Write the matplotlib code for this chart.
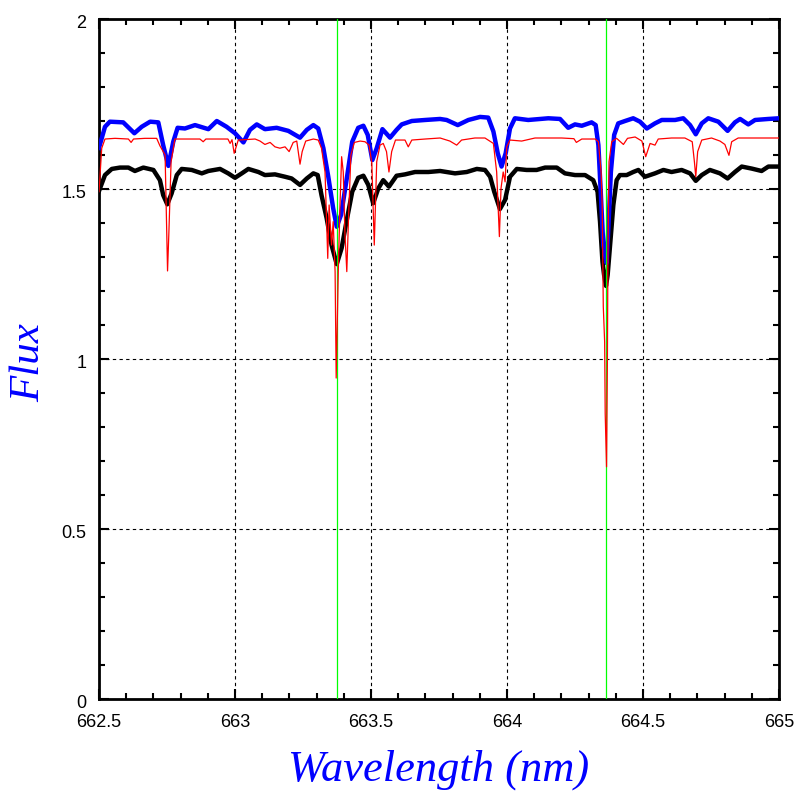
import numpy as np
import matplotlib
matplotlib.use("Agg")
import matplotlib.pyplot as plt
import matplotlib.transforms as mtransforms
from matplotlib.ticker import MultipleLocator

# (wavelength nm, flux)
blue_pts = [
    (662.500, 1.621), (662.522, 1.683), (662.540, 1.698), (662.589, 1.696), (662.630, 1.664),
    (662.657, 1.683), (662.688, 1.698), (662.718, 1.696), (662.736, 1.629), (662.755, 1.568),
    (662.773, 1.639), (662.789, 1.680), (662.816, 1.678), (662.853, 1.688), (662.902, 1.676),
    (662.933, 1.700), (662.969, 1.683), (663.000, 1.664), (663.031, 1.637), (663.055, 1.674),
    (663.080, 1.690), (663.110, 1.676), (663.153, 1.680), (663.196, 1.671), (663.239, 1.651),
    (663.264, 1.674), (663.288, 1.688), (663.306, 1.678), (663.325, 1.620), (663.343, 1.536),
    (663.361, 1.443), (663.374, 1.389), (663.390, 1.424), (663.411, 1.531), (663.431, 1.639),
    (663.453, 1.680), (663.472, 1.686), (663.488, 1.659), (663.505, 1.585), (663.521, 1.620),
    (663.542, 1.676), (663.570, 1.651), (663.594, 1.674), (663.613, 1.690), (663.650, 1.700),
    (663.699, 1.703), (663.754, 1.706), (663.778, 1.703), (663.819, 1.688), (663.858, 1.703),
    (663.901, 1.712), (663.931, 1.710), (663.950, 1.669), (663.966, 1.605), (663.980, 1.566),
    (663.995, 1.605), (664.011, 1.678), (664.029, 1.708), (664.078, 1.703), (664.152, 1.708),
    (664.195, 1.706), (664.225, 1.680), (664.250, 1.690), (664.275, 1.686), (664.311, 1.696),
    (664.326, 1.688), (664.336, 1.629), (664.344, 1.502), (664.354, 1.335), (664.366, 1.282),
    (664.372, 1.374), (664.382, 1.551), (664.394, 1.659), (664.409, 1.693), (664.434, 1.700),
    (664.464, 1.708), (664.489, 1.698), (664.514, 1.678), (664.544, 1.693), (664.569, 1.703),
    (664.618, 1.703), (664.648, 1.708), (664.673, 1.688), (664.694, 1.661), (664.716, 1.693),
    (664.740, 1.708), (664.777, 1.698), (664.811, 1.671), (664.838, 1.696), (664.857, 1.706),
    (664.887, 1.690), (664.912, 1.703), (664.961, 1.706), (665.000, 1.708),
]

black_pts = [
    (662.500, 1.494), (662.522, 1.541), (662.547, 1.559), (662.577, 1.563), (662.608, 1.563),
    (662.632, 1.553), (662.663, 1.563), (662.700, 1.556), (662.724, 1.526), (662.736, 1.482),
    (662.751, 1.455), (662.767, 1.487), (662.786, 1.541), (662.804, 1.559), (662.841, 1.556),
    (662.878, 1.546), (662.902, 1.553), (662.945, 1.559), (662.975, 1.546), (663.000, 1.533),
    (663.025, 1.546), (663.049, 1.559), (663.086, 1.550), (663.110, 1.541), (663.147, 1.543),
    (663.184, 1.536), (663.208, 1.531), (663.239, 1.512), (663.264, 1.531), (663.288, 1.546),
    (663.304, 1.541), (663.318, 1.482), (663.337, 1.414), (663.355, 1.335), (663.374, 1.279),
    (663.392, 1.326), (663.411, 1.409), (663.431, 1.492), (663.453, 1.533), (663.472, 1.539),
    (663.490, 1.512), (663.508, 1.458), (663.527, 1.502), (663.545, 1.526), (663.566, 1.507),
    (663.594, 1.539), (663.625, 1.543), (663.662, 1.550), (663.711, 1.550), (663.754, 1.553),
    (663.809, 1.546), (663.852, 1.550), (663.889, 1.559), (663.919, 1.556), (663.938, 1.536),
    (663.953, 1.492), (663.974, 1.441), (663.993, 1.468), (664.011, 1.536), (664.036, 1.559),
    (664.072, 1.556), (664.109, 1.556), (664.140, 1.563), (664.183, 1.563), (664.213, 1.546),
    (664.250, 1.541), (664.287, 1.541), (664.317, 1.526), (664.333, 1.492), (664.342, 1.404),
    (664.351, 1.286), (664.357, 1.247), (664.364, 1.215), (664.370, 1.247), (664.379, 1.335),
    (664.391, 1.453), (664.403, 1.526), (664.415, 1.541), (664.440, 1.541), (664.464, 1.550),
    (664.483, 1.556), (664.507, 1.536), (664.544, 1.546), (664.575, 1.556), (664.605, 1.550),
    (664.642, 1.556), (664.673, 1.546), (664.694, 1.524), (664.716, 1.541), (664.746, 1.556),
    (664.783, 1.546), (664.811, 1.531), (664.838, 1.550), (664.863, 1.566), (664.900, 1.560),
    (664.936, 1.553), (664.961, 1.566), (665.000, 1.566),
]

red_pts = [
    (662.500, 1.492), (662.510, 1.620), (662.522, 1.647), (662.559, 1.649), (662.608, 1.647),
    (662.618, 1.637), (662.627, 1.647), (662.669, 1.649), (662.712, 1.649), (662.724, 1.627),
    (662.743, 1.600), (662.749, 1.374), (662.752, 1.259), (662.757, 1.374), (662.765, 1.580),
    (662.779, 1.647), (662.871, 1.647), (662.883, 1.639), (662.893, 1.647), (662.974, 1.647),
    (662.982, 1.634), (662.989, 1.645), (662.997, 1.605), (663.012, 1.644), (663.074, 1.647),
    (663.092, 1.641), (663.110, 1.631), (663.129, 1.637), (663.147, 1.624), (663.165, 1.620),
    (663.184, 1.624), (663.199, 1.610), (663.214, 1.637), (663.227, 1.641), (663.239, 1.573),
    (663.247, 1.610), (663.260, 1.641), (663.288, 1.647), (663.306, 1.644), (663.318, 1.620),
    (663.331, 1.550), (663.341, 1.296), (663.346, 1.453), (663.355, 1.335), (663.361, 1.404),
    (663.368, 1.257), (663.372, 0.944), (663.380, 1.267), (663.386, 1.453), (663.392, 1.595),
    (663.398, 1.550), (663.404, 1.374), (663.411, 1.257), (663.417, 1.404), (663.426, 1.600),
    (663.439, 1.637), (663.460, 1.641), (663.478, 1.639), (663.493, 1.629), (663.503, 1.576),
    (663.512, 1.335), (663.521, 1.580), (663.533, 1.629), (663.545, 1.634), (663.557, 1.610),
    (663.566, 1.550), (663.576, 1.610), (663.590, 1.644), (663.625, 1.644), (663.637, 1.624),
    (663.650, 1.644), (663.699, 1.647), (663.754, 1.650), (663.790, 1.641), (663.815, 1.629),
    (663.833, 1.644), (663.882, 1.650), (663.919, 1.650), (663.950, 1.634), (663.962, 1.550),
    (663.972, 1.360), (663.978, 1.502), (663.986, 1.550), (663.993, 1.521), (663.999, 1.624),
    (664.011, 1.644), (664.054, 1.641), (664.103, 1.650), (664.201, 1.650), (664.246, 1.648),
    (664.255, 1.637), (664.275, 1.647), (664.324, 1.647), (664.336, 1.639), (664.346, 1.550),
    (664.350, 1.450), (664.354, 1.154), (664.359, 1.050), (664.361, 0.840), (664.366, 0.683),
    (664.369, 0.980), (664.371, 1.300), (664.375, 1.580), (664.385, 1.639), (664.403, 1.649),
    (664.428, 1.631), (664.443, 1.649), (664.471, 1.653), (664.496, 1.641), (664.510, 1.595),
    (664.526, 1.634), (664.544, 1.629), (664.556, 1.647), (664.605, 1.650), (664.654, 1.650),
    (664.681, 1.639), (664.689, 1.580), (664.694, 1.536), (664.701, 1.610), (664.716, 1.644),
    (664.752, 1.650), (664.783, 1.641), (664.801, 1.631), (664.816, 1.599), (664.826, 1.639),
    (664.850, 1.650), (665.000, 1.650),
]

marker_lines = [663.375, 664.364]   # green vertical lines (nm)

xlim = (662.5, 665.0)
ylim = (0.0, 2.0)

label_font = ["Liberation Serif", "DejaVu Serif"]
tick_font = ["Liberation Sans", "DejaVu Sans"]


def xy(pts):
    a = np.array(pts)
    return a[:, 0], a[:, 1]


fig = plt.figure(figsize=(7.97, 7.97), dpi=100)
ax = fig.add_axes([99/797, 98/797, 680/797, 680/797])

w, f = xy(black_pts)
ax.plot(w, f, color="black", lw=3.2, zorder=3, solid_joinstyle="round")
w, f = xy(blue_pts)
ax.plot(w, f, color="#0000ff", lw=3.2, zorder=4, solid_joinstyle="round")
for x0 in marker_lines:
    ax.axvline(x0, color="#00ff00", lw=0.9, zorder=4.5)
w, f = xy(red_pts)
ax.plot(w, f, color="#ff0000", lw=0.9, zorder=5)

ax.set_xlim(*xlim)
ax.set_ylim(*ylim)
ax.xaxis.set_major_locator(MultipleLocator(0.5))
ax.xaxis.set_minor_locator(MultipleLocator(0.1))
ax.yaxis.set_major_locator(MultipleLocator(0.5))
ax.yaxis.set_minor_locator(MultipleLocator(0.1))
ax.xaxis.set_major_formatter(plt.FuncFormatter(lambda v, p: f"{v:g}"))
ax.yaxis.set_major_formatter(plt.FuncFormatter(lambda v, p: f"{v:g}"))

ax.tick_params(which="both", direction="in", top=True, right=True, width=1.5,
               colors="black", labelsize=13)
ax.tick_params(axis="x", pad=11)
ax.tick_params(axis="y", pad=9)
ax.tick_params(which="major", length=7.5)
ax.tick_params(which="minor", length=4)
shift = mtransforms.ScaledTranslation(0, -3/100, fig.dpi_scale_trans)
for lab in ax.get_xticklabels():
    lab.set_family(tick_font)
for lab in ax.get_yticklabels():
    lab.set_family(tick_font)
    lab.set_transform(lab.get_transform() + shift)

ax.grid(which="major", color="black", lw=0.8, linestyle=(0, (3, 3)))
for s in ax.spines.values():
    s.set_linewidth(2)

ax.set_xlabel("Wavelength (nm)", family=label_font, style="italic",
              fontsize=32, color="#0000ff")
ax.set_ylabel("Flux", family=label_font, style="italic",
              fontsize=31, color="#0000ff")
ax.xaxis.set_label_coords(0.5, -0.074)
ax.yaxis.set_label_coords(-0.074, 0.495)

fig.savefig("out.png", dpi=100)
